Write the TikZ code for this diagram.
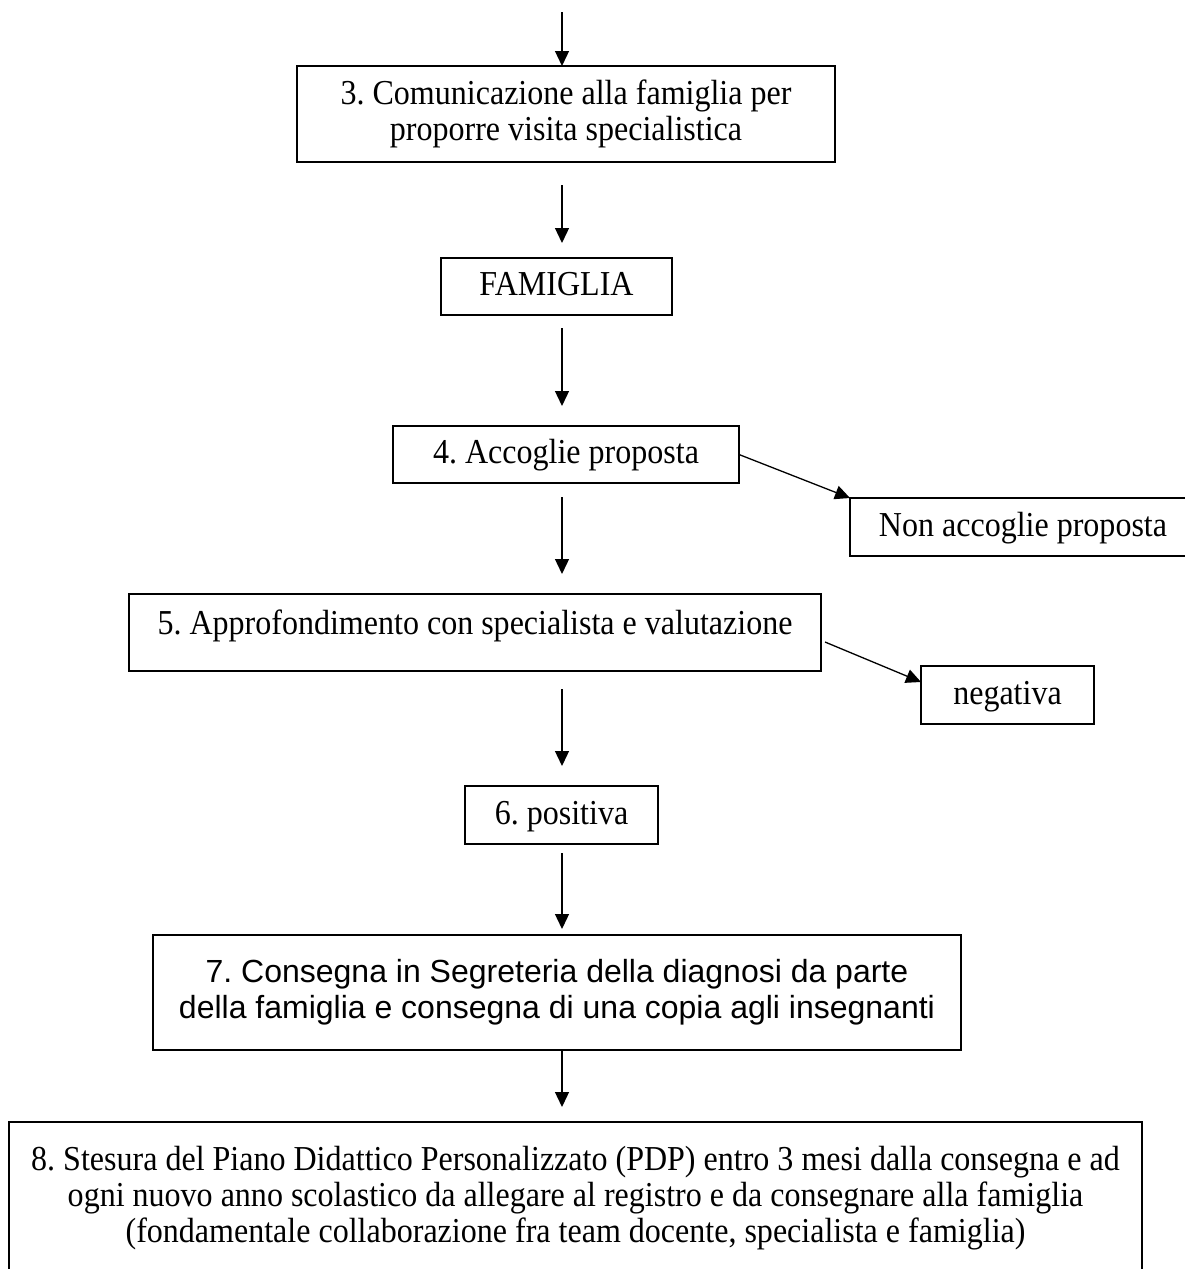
\documentclass[tikz,border=0pt]{standalone}
\usepackage{fontspec}
\setmainfont[FakeStretch=0.915]{Liberation Serif}
\newfontfamily\arialfont{Liberation Sans}
\usetikzlibrary{arrows.meta}
\frenchspacing

\begin{document}
\begin{tikzpicture}[x=1pt, y=-1pt]
\tikzset{ >={Triangle[length=15pt,width=14pt]}, inner sep=0pt, outer sep=0pt,
  box/.style={draw, line width=1.7pt, align=center, font=\fontsize{35}{36}\selectfont},
  oneline/.style={text height=25pt, text depth=7pt},
  flow/.style={->, line width=1.3pt},
}

\useasboundingbox (0,0) rectangle (1184,1269);
%\draw [lightgray, dashed](0,0) grid[step=100] (1184,1269);

\coordinate (T) at (562,12);

\node [box, minimum width=538pt, minimum height=96pt] (C) at (566,114)
  {3. Comunicazione alla famiglia per\\proporre visita specialistica};
\node [box, oneline, minimum width=231pt, minimum height=57pt] (F) at (556.5,286.5) {FAMIGLIA};
\node [box, oneline, minimum width=346pt, minimum height=57pt] (A) at (566,454.5) {4. Accoglie proposta};
\node [box, oneline, minimum width=346pt, minimum height=58pt] (R) at (1023,527) {Non accoglie proposta};
\node [box, oneline, text depth=22pt, minimum width=692pt, minimum height=77pt] (V) at (475,632.5)
  {5. Approfondimento con specialista e valutazione};
\node [box, oneline, minimum width=173pt, minimum height=58pt] (N) at (1007.5,695) {negativa};
\node [box, oneline, minimum width=193pt, minimum height=58pt] (P) at (561.5,815) {6. positiva};
\node [box, font=\arialfont\fontsize{32}{36}\selectfont, minimum width=808pt, minimum height=115pt] (D) at (557,992.5)
  {7. Consegna in Segreteria della diagnosi da parte\\della famiglia e consegna di una copia agli insegnanti};
\node [box, line width=1.3pt, anchor=north, inner ysep=23pt, minimum width=1133pt] (PDP) at (575.5,1122)
  {\parbox[c][200pt][t]{1100pt}{\centering\strut 8. Stesura del Piano Didattico Personalizzato (PDP) entro 3 mesi dalla consegna e ad\\
   ogni nuovo anno scolastico da allegare al registro e da consegnare alla famiglia\\
   (fondamentale collaborazione fra team docente, specialista e famiglia)}};

\draw [flow] (T) -- (C.north -| T);
\draw [flow, shorten <=23pt, shorten >=15pt] (C.south -| T) -- (F.north -| T);
\draw [flow, shorten <=13pt, shorten >=20pt] (F.south -| T) -- (A.north -| T);
\draw [flow, shorten <=14pt, shorten >=20pt] (A.south -| T) -- (V.north -| T);
\draw [flow, shorten <=18pt, shorten >=20pt] (V.south -| T) -- (P.north -| T);
\draw [flow, shorten <=9pt,  shorten >=6pt]  (P.south -| T) -- (D.north -| T);
\draw [flow, shorten >=15pt] (D.south -| T) -- (PDP.north -| T);

\draw [flow] (A.east) -- (R.north west);
\draw [flow] ([xshift=4pt,yshift=-9.5pt]V.east) -- ([yshift=-16pt]N.north west);
\end{tikzpicture}
\end{document}
